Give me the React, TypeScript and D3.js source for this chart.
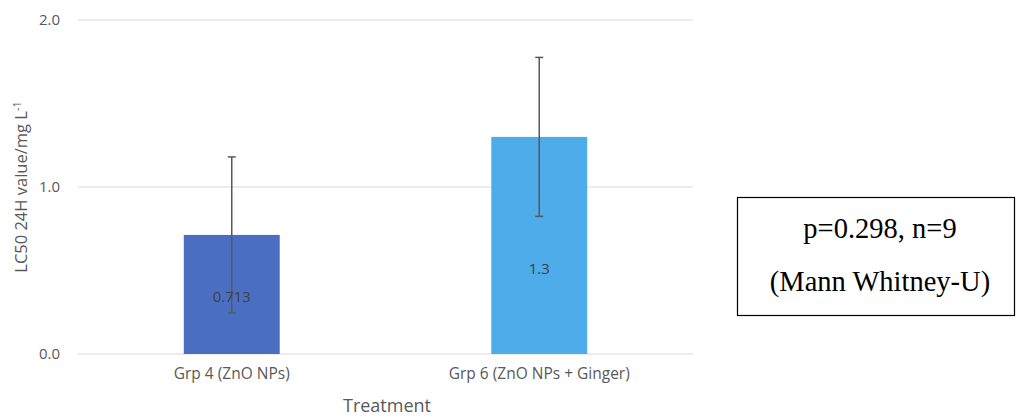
import React, { useRef, useEffect } from "react";
import * as d3 from "d3";

// Chart data
const categories = ["Grp 4 (ZnO NPs)", "Grp 6 (ZnO NPs + Ginger)"];
const values = [0.713, 1.3];
const errors = [0.467, 0.476];
const valueLabels = ["0.713", "1.3"];
const labelLevels = [0.34, 0.51];
const yTicks = [0, 1, 2];
const barColors = ["#4A6FC2", "#4DACE9"];
const statLines = ["p=0.298, n=9", "(Mann Whitney-U)"];

const App = () => {
  const svgRef = useRef<SVGSVGElement>(null);

  useEffect(() => {
    const width = 1016;
    const height = 417;
    const margin = { top: 20, right: 323, bottom: 63, left: 78 };
    const font = "'Open Sans', sans-serif";

    const svg = d3.select(svgRef.current).attr("width", width).attr("height", height);
    svg.selectAll("*").remove();

    const x = d3
      .scaleBand()
      .domain(categories)
      .range([margin.left, width - margin.right])
      .padding(0);

    const y = d3
      .scaleLinear()
      .domain([0, 2])
      .range([height - margin.bottom, margin.top]);

    const barW = x.bandwidth() * 0.312;

    // Gridlines
    svg
      .append("g")
      .selectAll("line")
      .data(yTicks)
      .join("line")
      .attr("x1", margin.left)
      .attr("x2", width - margin.right)
      .attr("y1", (d) => y(d))
      .attr("y2", (d) => y(d))
      .attr("stroke", "#d9d9d9")
      .attr("stroke-width", 1);

    // Y tick labels
    svg
      .append("g")
      .selectAll("text")
      .data(yTicks)
      .join("text")
      .attr("x", margin.left - 18)
      .attr("y", (d) => y(d))
      .attr("dy", "0.35em")
      .attr("text-anchor", "end")
      .attr("font-family", font)
      .attr("font-size", 15)
      .attr("fill", "#595959")
      .text((d) => d.toFixed(1));

    // Bars
    svg
      .append("g")
      .selectAll("rect")
      .data(values)
      .join("rect")
      .attr("x", (d, i) => x(categories[i])! + x.bandwidth() / 2 - barW / 2)
      .attr("y", (d) => y(d))
      .attr("width", barW)
      .attr("height", (d) => y(0) - y(d))
      .attr("fill", (d, i) => barColors[i]);

    // Error bars
    const eb = svg.append("g").attr("stroke", "#595959").attr("stroke-width", 1.5);
    values.forEach((v, i) => {
      const cx = x(categories[i])! + x.bandwidth() / 2;
      const top = y(v + errors[i]);
      const bot = y(v - errors[i]);
      eb.append("line").attr("x1", cx).attr("x2", cx).attr("y1", top).attr("y2", bot);
      eb.append("line").attr("x1", cx - 4).attr("x2", cx + 4).attr("y1", top).attr("y2", top);
      eb.append("line").attr("x1", cx - 4).attr("x2", cx + 4).attr("y1", bot).attr("y2", bot);
    });

    // Data labels
    svg
      .append("g")
      .selectAll("text")
      .data(valueLabels)
      .join("text")
      .attr("x", (d, i) => x(categories[i])! + x.bandwidth() / 2)
      .attr("y", (d, i) => y(labelLevels[i]))
      .attr("dy", "0.35em")
      .attr("text-anchor", "middle")
      .attr("font-family", font)
      .attr("font-size", 15)
      .attr("fill", "#404040")
      .text((d) => d);

    // Category labels
    svg
      .append("g")
      .selectAll("text")
      .data(categories)
      .join("text")
      .attr("x", (d) => x(d)! + x.bandwidth() / 2)
      .attr("y", y(0) + 25)
      .attr("text-anchor", "middle")
      .attr("font-family", font)
      .attr("font-size", 15.5)
      .attr("fill", "#595959")
      .text((d) => d);

    // Axis titles
    svg
      .append("text")
      .attr("x", 387)
      .attr("y", height - 5)
      .attr("text-anchor", "middle")
      .attr("font-family", font)
      .attr("font-size", 18)
      .attr("fill", "#595959")
      .text("Treatment");

    const yt = svg
      .append("text")
      .attr("transform", `translate(27,187) rotate(-90)`)
      .attr("text-anchor", "middle")
      .attr("font-family", font)
      .attr("font-size", 16.5)
      .attr("fill", "#595959");
    yt.append("tspan").text("LC50 24H value/mg L");
    yt.append("tspan").attr("dy", -6).attr("font-size", 11).text("-1");

    // Stats box
    svg
      .append("rect")
      .attr("x", 737.5)
      .attr("y", 197.5)
      .attr("width", 277)
      .attr("height", 118)
      .attr("fill", "white")
      .attr("stroke", "black")
      .attr("stroke-width", 1.2);

    svg
      .append("g")
      .selectAll("text")
      .data(statLines)
      .join("text")
      .attr("x", 880)
      .attr("y", (d, i) => 238 + i * 53)
      .attr("text-anchor", "middle")
      .attr("font-family", "'Liberation Serif', 'Times New Roman', serif")
      .attr("font-size", 28.5)
      .attr("fill", "black")
      .text((d) => d);
  }, []);

  return <svg ref={svgRef} style={{ position: "absolute", left: 0, top: 0 }}></svg>;
};

export default App;
